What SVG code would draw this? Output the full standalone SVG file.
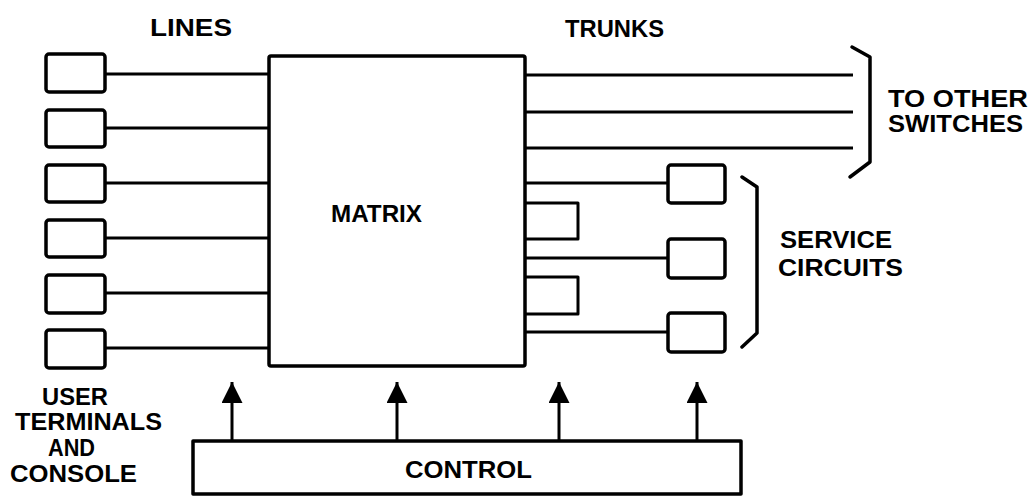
<svg xmlns="http://www.w3.org/2000/svg" width="1035" height="497" viewBox="0 0 1035 497">
  <defs>
    <style>
      .box { fill: #fff; stroke: #000; stroke-width: 3.5; stroke-linejoin: round; }
      .ln { fill: none; stroke: #000; stroke-width: 3; stroke-linecap: butt; stroke-linejoin: round; }
      .br { fill: none; stroke: #000; stroke-width: 3.5; stroke-linecap: round; stroke-linejoin: round; }
      .lbl { font-family: "Liberation Sans", Arial, sans-serif; font-weight: bold; font-size: 24px; fill: #000; }
    </style>
    <marker id="ah" viewBox="0 0 10 10" refX="10" refY="5" markerWidth="7" markerHeight="7" markerUnits="strokeWidth" orient="auto">
      <path d="M0,0 L10,5 L0,10 z" fill="#000"/>
    </marker>
  </defs>
  <rect width="1035" height="497" fill="#fff"/>

  <g id="connectors">
    <!-- lines from user terminals to matrix -->
    <path class="ln" d="M105,74 H269 M105,128 H269 M105,183 H269 M105,238 H269 M105,293 H269 M105,348 H269"/>
    <!-- trunks to other switches -->
    <path class="ln" d="M525,75 H853 M525,112 H853 M525,148 H853"/>
    <!-- trunks to service circuits -->
    <path class="ln" d="M525,183 H668 M525,258 H668 M525,332 H668"/>
    <!-- loop-back trunks -->
    <path class="ln" d="M525,203 H578 V239 H525 M525,277 H578 V314 H525"/>
    <!-- control arrows -->
    <path class="ln" d="M232,441 V382" marker-end="url(#ah)"/>
    <path class="ln" d="M397,441 V382" marker-end="url(#ah)"/>
    <path class="ln" d="M559,441 V382" marker-end="url(#ah)"/>
    <path class="ln" d="M697,441 V382" marker-end="url(#ah)"/>
  </g>

  <g id="user-terminals">
    <rect class="box" x="46" y="54" width="59" height="38" rx="3"/>
    <rect class="box" x="46" y="110" width="59" height="37" rx="3"/>
    <rect class="box" x="46" y="165" width="59" height="37" rx="3"/>
    <rect class="box" x="46" y="220" width="59" height="37" rx="3"/>
    <rect class="box" x="46" y="275" width="59" height="38" rx="3"/>
    <rect class="box" x="46" y="330" width="59" height="38" rx="3"/>
    <text class="lbl" x="42" y="405" textLength="66" lengthAdjust="spacingAndGlyphs">USER</text>
    <text class="lbl" x="15" y="430" textLength="147" lengthAdjust="spacingAndGlyphs">TERMINALS</text>
    <text class="lbl" x="48" y="456" textLength="47" lengthAdjust="spacingAndGlyphs">AND</text>
    <text class="lbl" x="10" y="482" textLength="127" lengthAdjust="spacingAndGlyphs">CONSOLE</text>
  </g>

  <g id="lines-label">
    <text class="lbl" x="150" y="36" textLength="82" lengthAdjust="spacingAndGlyphs">LINES</text>
  </g>

  <g id="trunks-label">
    <text class="lbl" x="565" y="37" textLength="99" lengthAdjust="spacingAndGlyphs">TRUNKS</text>
  </g>

  <g id="matrix">
    <rect class="box" x="269" y="56" width="256" height="310" rx="2"/>
    <text class="lbl" x="331" y="222" textLength="91" lengthAdjust="spacingAndGlyphs">MATRIX</text>
  </g>

  <g id="other-switches">
    <path class="br" d="M852,47 L870,57 V162 L850,177"/>
    <text class="lbl" x="888" y="107" textLength="140" lengthAdjust="spacingAndGlyphs">TO OTHER</text>
    <text class="lbl" x="888" y="132" textLength="135" lengthAdjust="spacingAndGlyphs">SWITCHES</text>
  </g>

  <g id="service-circuits">
    <rect class="box" x="668" y="165" width="57" height="38" rx="3"/>
    <rect class="box" x="668" y="239" width="57" height="39" rx="3"/>
    <rect class="box" x="668" y="313" width="57" height="39" rx="3"/>
    <path class="br" d="M742,177 L757,187 V333 L742,347"/>
    <text class="lbl" x="780" y="248" textLength="112" lengthAdjust="spacingAndGlyphs">SERVICE</text>
    <text class="lbl" x="778" y="276" textLength="125" lengthAdjust="spacingAndGlyphs">CIRCUITS</text>
  </g>

  <g id="control">
    <rect class="box" x="193" y="441" width="548" height="53"/>
    <text class="lbl" x="405" y="478" textLength="127" lengthAdjust="spacingAndGlyphs">CONTROL</text>
  </g>
</svg>
